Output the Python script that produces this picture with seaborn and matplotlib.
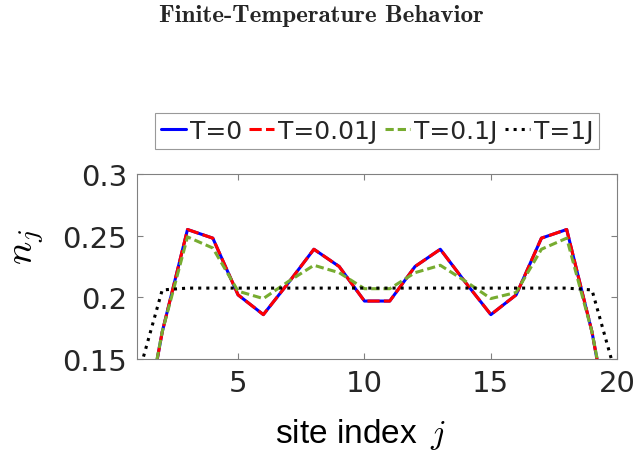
import numpy as np
import pandas as pd
import seaborn as sns
import matplotlib.pyplot as plt

# Data #

sites = np.arange(1, 21)
n_T0 = [0.060, 0.172, 0.255, 0.248, 0.202, 0.186, 0.212, 0.239, 0.225, 0.197,
        0.197, 0.225, 0.239, 0.212, 0.186, 0.202, 0.248, 0.255, 0.172, 0.060]
n_T001 = [0.060, 0.172, 0.255, 0.248, 0.202, 0.186, 0.212, 0.239, 0.225, 0.197,
          0.197, 0.225, 0.239, 0.212, 0.186, 0.202, 0.248, 0.255, 0.172, 0.060]
n_T01 = [0.065, 0.172, 0.249, 0.240, 0.205, 0.199, 0.213, 0.226, 0.220, 0.207,
         0.207, 0.220, 0.226, 0.213, 0.199, 0.204, 0.239, 0.248, 0.172, 0.065]
n_T1 = [0.133, 0.206, 0.2075, 0.2075, 0.2075, 0.2075, 0.2075, 0.2075, 0.2075, 0.2075,
        0.2075, 0.2075, 0.2075, 0.2075, 0.2075, 0.2075, 0.2075, 0.2075, 0.206, 0.133]
labels = ["T=0", "T=0.01J", "T=0.1J", "T=1J"]
xticks = [5, 10, 15, 20]
yticks = [0.15, 0.2, 0.25, 0.3]

# Style #

sns.set_theme(style="white")
plt.rcParams["font.family"] = ["DejaVu Sans"]
plt.rcParams["mathtext.fontset"] = "cm"

series = [n_T0, n_T001, n_T01, n_T1]
colors = ["#0000FF", "#FF0000", "#77AC30", "#000000"]
styles = ["-", (0, (4.0, 1.4)), (0, (2.7, 1.3)), ":"]

fig = plt.figure(figsize=(6.37, 4.56), dpi=100)
ax = fig.add_axes([0.215, 0.2105, 0.754, 0.4057])

for vals, lab, col, ls in zip(series, labels, colors, styles):
    sns.lineplot(x=sites, y=vals, color=col, linestyle=ls, linewidth=2.2,
                 label=lab, ax=ax)

ax.set_xlim(1, 20)
ax.set_ylim(0.15, 0.3)
ax.set_xticks(xticks)
ax.set_yticks(yticks)
ax.set_yticklabels(["0.15", "0.2", "0.25", "0.3"])
ax.tick_params(direction="in", length=4, width=0.8, color="#808080",
               labelsize=21, labelcolor="#262626", top=True, right=True,
               bottom=True, left=True, pad=7)
for sp in ax.spines.values():
    sp.set_color("#808080")
    sp.set_linewidth(0.8)

ax.set_xlabel(r"site index $\,j$", fontsize=24, family="Liberation Sans",
              color="#000000")
ax.xaxis.set_label_coords(0.465, -0.31)
ax.set_ylabel("$n_j$", fontsize=28, color="#000000")
ax.yaxis.set_label_coords(-0.19, 0.61)

leg = ax.legend(ncol=4, loc="lower center", bbox_to_anchor=(0.5, 1.135),
                fontsize=18, frameon=True, fancybox=False, edgecolor="#808080",
                handlelength=1.0, handletextpad=0.15, columnspacing=0.3,
                borderpad=0.25, borderaxespad=0.0)
leg.get_frame().set_linewidth(0.8)

fig.text(0.505, 0.952, "Finite-Temperature Behavior", family="cmb10",
         fontsize=18, ha="center", va="baseline")

fig.savefig("out.png", dpi=100)
